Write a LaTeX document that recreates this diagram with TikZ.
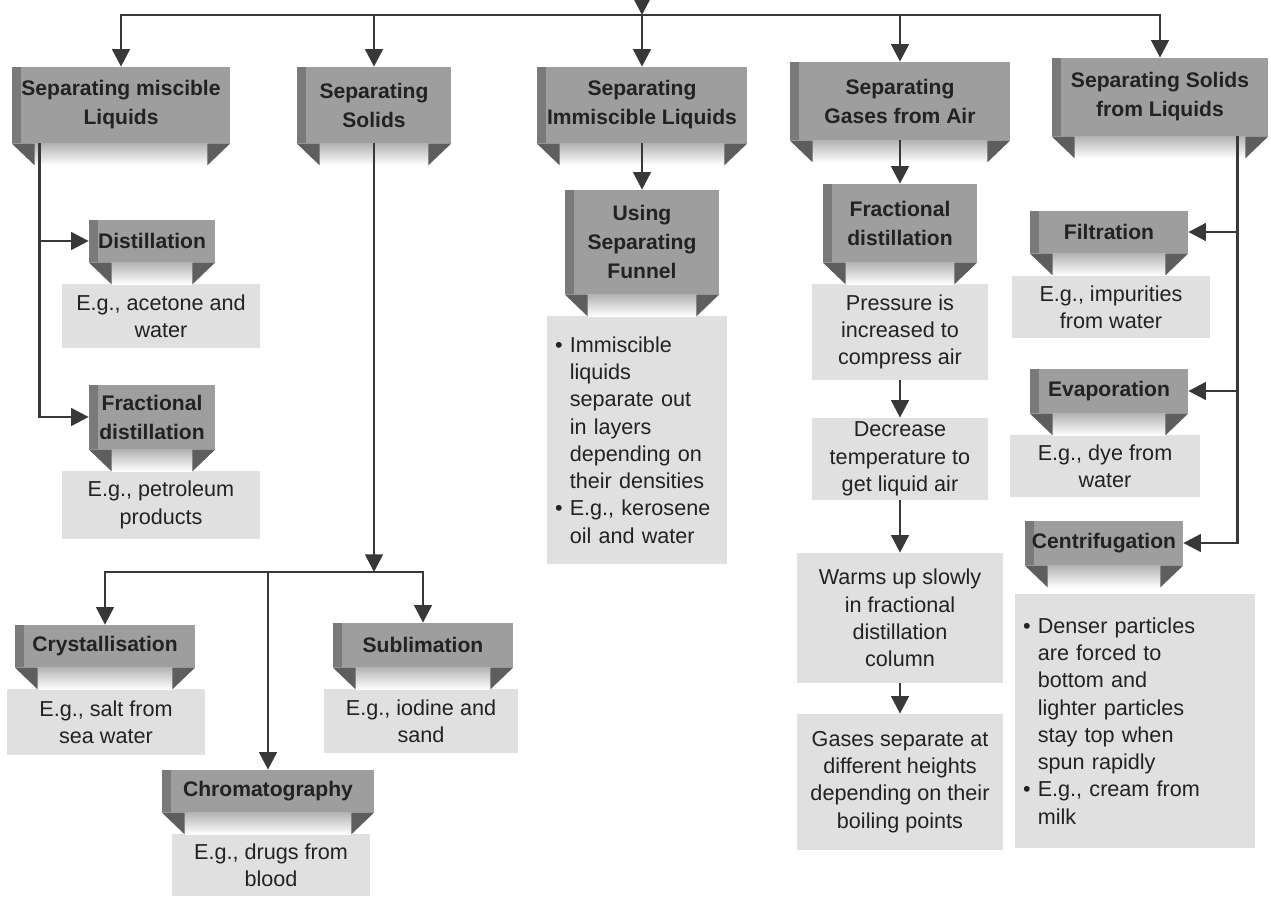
\documentclass[tikz,border=0pt]{standalone}
\usepackage{fontspec}
\setmainfont{Liberation Sans}
\usetikzlibrary{arrows.meta}

\definecolor{hdrfill}{HTML}{9E9E9E}
\definecolor{hdredge}{HTML}{7A7A7A}
\definecolor{tabfill}{HTML}{5E5E5E}
\definecolor{exfill}{HTML}{E0E0E0}
\definecolor{linecol}{HTML}{383838}
\definecolor{txtcol}{HTML}{222222}

\newcommand{\blt}{\textbullet\ }
\newcommand{\blpad}{\phantom{\textbullet\ }}

\tikzset{
    sz/.style 2 args={minimum width=#1*0.02cm, minimum height=#2*0.02cm},
    hdr/.style={fill=hdrfill, text=txtcol, align=center, inner sep=2pt,
        font=\bfseries\fontsize{12}{16.5}\selectfont,
        path picture={\fill[hdredge] (path picture bounding box.south west)
            rectangle ([xshift=5pt]path picture bounding box.north west);}},
    ex/.style={fill=exfill, text=txtcol, align=center, inner sep=2pt,
        font=\fontsize{12.3}{15.5}\selectfont},
    exlist/.style={ex, align=left, inner xsep=0.16cm},
    arr/.style={draw=linecol, line width=1.6pt, -{Triangle[length=10pt,width=10pt]}},
}

\begin{document}
\begin{tikzpicture}[x=0.02cm,y=-0.02cm]
        \useasboundingbox (0,0) rectangle (1271,896);
        %% Main headings
        \node[hdr, sz={218}{76}] (misc)   at (121,105) {Separating miscible\\Liquids};
        \node[hdr, sz={154}{76}] (solid)  at (374,105) {Separating\\Solids};
        \node[hdr, sz={210}{76}] (immisc) at (642,105) {Separating\\Immiscible Liquids};
        \node[hdr, sz={220}{78}] (gases)  at (900,101) {Separating\\Gases from Air};
        \node[hdr, sz={216}{78}] (solliq) at (1160,97) {Separating Solids\\from Liquids};
        %% Miscible liquids
        \node[hdr, sz={126}{42}] (distil)  at (152,241) {Distillation};
            \node[ex, sz={198}{64}] (exacet)  at (161,316) {E.g., acetone and\\water};
        \node[hdr, sz={126}{64}] (fracA)   at (152,417) {Fractional\\distillation};
            \node[ex, sz={198}{68}] (expetro) at (161,505) {E.g., petroleum\\products};
        %% Solids
        \node[hdr, sz={180}{42}] (cryst)  at (105,646) {Crystallisation};
            \node[ex, sz={198}{66}] (exsalt) at (106,722) {E.g., salt from\\sea water};
        \node[hdr, sz={180}{44}] (sublim) at (423,645) {Sublimation};
            \node[ex, sz={194}{64}] (exiod)  at (421,721) {E.g., iodine and\\sand};
        \node[hdr, sz={212}{42}] (chroma) at (268,791) {Chromatography};
            \node[ex, sz={198}{62}] (exdrug) at (271,865) {E.g., drugs from\\blood};
        %% Immiscible liquids
        \node[hdr, sz={154}{104}] (funnel) at (642,242) {Using\\Separating\\Funnel};
            \node[exlist, sz={180}{248}, text width=3.28cm] (exfun) at (637,440)
                {\blt Immiscible\\\blpad liquids\\\blpad separate out\\\blpad in layers\\\blpad depending on\\\blpad their densities\\\blt E.g., kerosene\\\blpad oil and water};
        %% Gases from air
        \node[hdr, sz={154}{78}] (fracB) at (900,223) {Fractional\\distillation};
            \node[ex, sz={176}{96}]  (express) at (900,332) {Pressure is\\increased to\\compress air};
            \node[ex, sz={176}{82}]  (exdecr)  at (900,459) {Decrease\\temperature to\\get liquid air};
            \node[ex, sz={206}{130}] (exwarm)  at (900,618) {Warms up slowly\\in fractional\\distillation\\column};
            \node[ex, sz={206}{136}] (exgas)   at (900,782) {Gases separate at\\different heights\\depending on their\\boiling points};
        %% Solids from liquids
        \node[hdr, sz={158}{42}] (filtr) at (1109,232) {Filtration};
            \node[ex, sz={198}{62}] (eximp) at (1111,307) {E.g., impurities\\from water};
        \node[hdr, sz={158}{44}] (evap)  at (1109,391) {Evaporation};
            \node[ex, sz={190}{62}] (exdye) at (1105,466) {E.g., dye from\\water};
        \node[hdr, sz={158}{44}] (centr) at (1104,543) {Centrifugation};
            \node[exlist, sz={240}{254}, text width=4.48cm] (excent) at (1135,721)
                {\blt Denser particles\\\blpad are forced to\\\blpad bottom and\\\blpad lighter particles\\\blpad stay top when\\\blpad spun rapidly\\\blt E.g., cream from\\\blpad milk};
        %% Ribbon tabs
        \foreach \n in {misc,solid,immisc,gases,solliq,distil,fracA,cryst,sublim,chroma,funnel,fracB,filtr,evap,centr}{
            \shade[top color=black!30, bottom color=white] ([xshift=0.46cm]\n.south west) rectangle ([xshift=-0.46cm,yshift=-0.44cm]\n.south east);
            \fill[tabfill] (\n.south west) -- ++(23,0) -- ++(0,22) -- cycle;
            \fill[tabfill] (\n.south east) -- ++(-23,0) -- ++(0,22) -- cycle;
        }
        %% Connectors
        \coordinate (root) at (642,-20);
        \coordinate (hub) at (642,15);
        \draw[arr] (root) -- (hub);
        \foreach \n in {misc,solid,immisc,gases,solliq}
            \draw[arr] (hub) -| (\n);
        \draw[arr] ([xshift=0.56cm]misc.south west) |- (distil);
        \draw[arr] ([xshift=0.56cm]misc.south west) |- (fracA);
        \coordinate (split) at (374,572);
        \draw[arr] (solid) -- (split);
        \foreach \n in {cryst,chroma,sublim}
            \draw[arr] (split) -| (\n);
        \draw[arr] (immisc) -- (funnel);
        \draw[arr] (gases) -- (fracB);
        \draw[arr] (express) -- (exdecr);
        \draw[arr] (exdecr) -- (exwarm);
        \draw[arr] (exwarm) -- (exgas);
        \foreach \n in {filtr,evap,centr}
            \draw[arr] ([xshift=-0.62cm]solliq.south east) |- (\n);
    \end{tikzpicture}
\end{document}
